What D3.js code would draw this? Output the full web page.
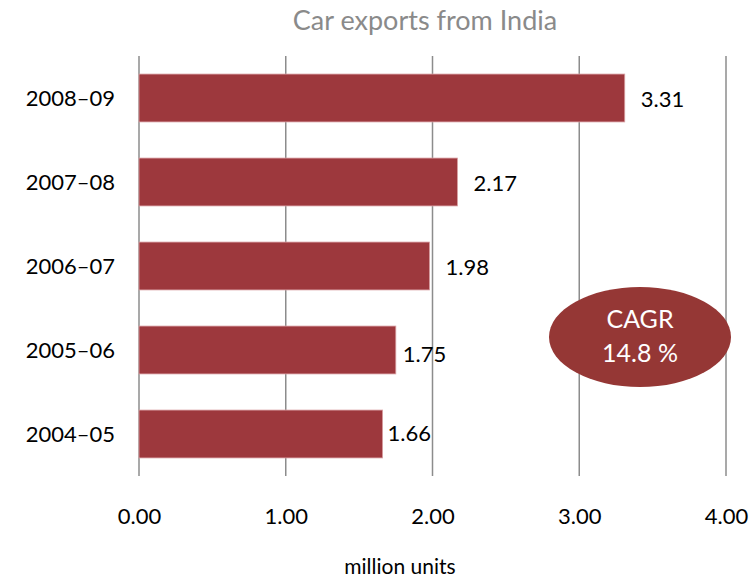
<!DOCTYPE html>
<html>
<head>
<meta charset="utf-8">
<script src="https://cdn.jsdelivr.net/npm/d3@7/dist/d3.min.js"></script>
<style>
  body { margin: 0; background: #fff; }
  svg { display: block; font-family: Lato, "Open Sans", sans-serif; }
</style>
</head>
<body>
<svg id="chart" width="753" height="577"></svg>
<script>
// Car exports from India, million units per fiscal year
const years = ["2008–09", "2007–08", "2006–07", "2005–06", "2004–05"];
const exportsMillion = [3.31, 2.17, 1.98, 1.75, 1.66];
const tickValues = [0, 1, 2, 3, 4];
const titleText = "Car exports from India";
const axisTitle = "million units";
const cagrLines = ["CAGR", "14.8 %"];

const svg = d3.select("#chart");
const margin = { left: 139, right: 27, top: 56, bottom: 101 };
const W = 753, H = 577;

const x = d3.scaleLinear().domain([0, 4]).range([margin.left, W - margin.right]);
const y = d3.scaleBand().domain(years).range([margin.top, H - margin.bottom]).paddingInner(0.43).paddingOuter(0.215);

// vertical gridlines
svg.append("g")
  .selectAll("line")
  .data(tickValues)
  .join("line")
  .attr("x1", d => x(d)).attr("x2", d => x(d))
  .attr("y1", margin.top).attr("y2", H - margin.bottom)
  .attr("stroke", "#8c8c8c").attr("stroke-width", 1.5);

// bars
svg.append("g")
  .selectAll("rect")
  .data(years)
  .join("rect")
  .attr("x", x(0))
  .attr("y", d => y(d))
  .attr("width", (d, i) => x(exportsMillion[i]) - x(0))
  .attr("height", y.bandwidth())
  .attr("fill", "#9d383d")
  .attr("stroke", "#d9a0a3").attr("stroke-width", 0.8);

// value labels next to each bar
const labelGap = [16, 16, 16, 7, 5];
const labelDrop = [3, 3, 3, 6, 1];
svg.append("g")
  .selectAll("text")
  .data(years)
  .join("text")
  .attr("x", (d, i) => x(exportsMillion[i]) + labelGap[i])
  .attr("y", (d, i) => y(d) + y.bandwidth() / 2 + labelDrop[i])
  .attr("dominant-baseline", "middle")
  .attr("font-size", 22)
  .attr("fill", "#000")
  .text((d, i) => exportsMillion[i].toFixed(2));

// category axis labels
svg.append("g")
  .selectAll("text")
  .data(years)
  .join("text")
  .attr("x", 115)
  .attr("y", d => y(d) + y.bandwidth() / 2 + 2)
  .attr("text-anchor", "end")
  .attr("dominant-baseline", "middle")
  .attr("font-size", 22)
  .attr("fill", "#000")
  .text(d => d);

// value axis tick labels
const xAxis = d3.axisBottom(x).tickValues(tickValues).tickFormat(d3.format(".2f")).tickSize(0).tickPadding(0);
const ax = svg.append("g").attr("transform", `translate(0, 508)`).call(xAxis);
ax.select(".domain").remove();
ax.selectAll("text").attr("font-size", 22).attr("fill", "#000").attr("font-family", "Lato, 'Open Sans', sans-serif");

// axis title
svg.append("text")
  .attr("x", 400).attr("y", 569)
  .attr("text-anchor", "middle")
  .attr("dominant-baseline", "middle")
  .attr("font-size", 21)
  .attr("fill", "#000")
  .text(axisTitle);

// chart title
svg.append("text")
  .attr("x", 425).attr("y", 23)
  .attr("text-anchor", "middle")
  .attr("dominant-baseline", "middle")
  .attr("font-size", 27)
  .attr("fill", "#8a8a8a")
  .text(titleText);

// CAGR badge
const badge = svg.append("g").attr("transform", "translate(640, 337)");
badge.append("ellipse").attr("rx", 91).attr("ry", 50).attr("fill", "#953735");
badge.selectAll("text")
  .data(cagrLines)
  .join("text")
  .attr("x", 0)
  .attr("y", (d, i) => -15 + i * 34)
  .attr("text-anchor", "middle")
  .attr("dominant-baseline", "middle")
  .attr("font-size", 25)
  .attr("fill", "#fff")
  .text(d => d);
</script>
</body>
</html>
